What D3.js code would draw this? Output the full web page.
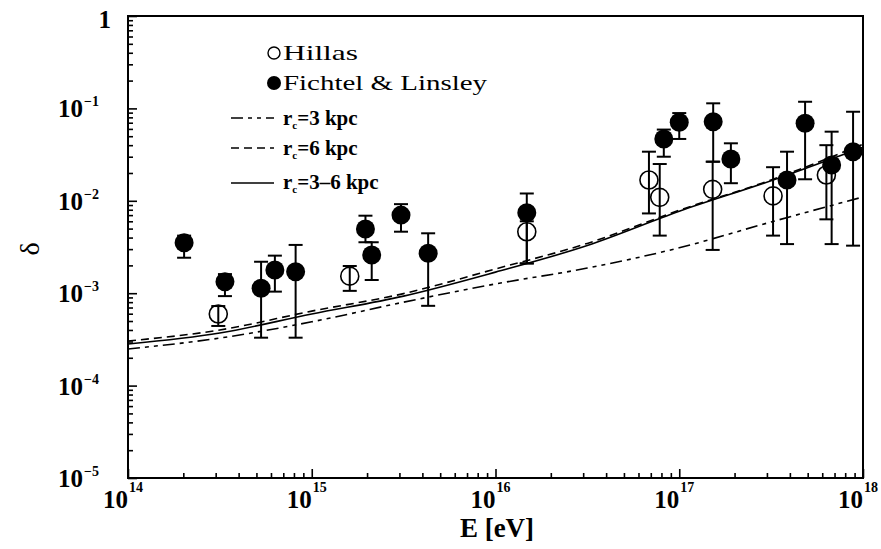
<!DOCTYPE html>
<html>
<head>
<meta charset="utf-8">
<script src="https://cdn.jsdelivr.net/npm/d3@7"></script>
<style>
html,body{margin:0;padding:0;background:#fff;}
svg{display:block;}
text{font-family:"Liberation Serif","Times New Roman",serif;fill:#000;}
</style>
</head>
<body>
<svg id="chart" width="881" height="549"></svg>
<script>
// ---- data ----
const xMajor = [1e14, 1e15, 1e16, 1e17, 1e18];
const xExpLabels = ["14", "15", "16", "17", "18"];
const yMajor = [1e-5, 1e-4, 1e-3, 1e-2, 1e-1, 1];
const yExpLabels = ["\u22125", "\u22124", "\u22123", "\u22122", "\u22121", ""];

// Hillas (open circles)
const hillasE  = [3.1e14, 1.61e15, 1.48e16, 6.84e16, 7.83e16, 1.52e17, 3.24e17, 6.32e17];
const hillasD  = [5.96e-4, 1.53e-3, 4.63e-3, 1.68e-2, 1.09e-2, 1.33e-2, 1.13e-2, 1.9e-2];
const hillasLo = [4.42e-4, 1.06e-3, 2.1e-3, 7.3e-3, 4.2e-3, 2.94e-3, 4.2e-3, 6.3e-3];
const hillasHi = [7.26e-4, 1.97e-3, 6.0e-3, 3.4e-2, 2.5e-2, 2.65e-2, 2.31e-2, 4.0e-2];

// Fichtel & Linsley (filled circles)
const fichtelE  = [2.02e14, 3.37e14, 5.3e14, 6.3e14, 8.17e14, 1.96e15, 2.12e15, 3.06e15, 4.3e15,
                   1.48e16, 8.24e16, 1.0e17, 1.53e17, 1.91e17, 3.86e17, 4.84e17, 6.75e17, 8.83e17];
const fichtelD  = [3.52e-3, 1.33e-3, 1.13e-3, 1.78e-3, 1.71e-3, 4.95e-3, 2.59e-3, 7.0e-3, 2.7e-3,
                   7.43e-3, 4.67e-2, 7.08e-2, 7.18e-2, 2.83e-2, 1.68e-2, 6.9e-2, 2.44e-2, 3.4e-2];
const fichtelLo = [2.42e-3, 9.3e-4, 3.3e-4, 1.04e-3, 3.3e-4, 3.56e-3, 1.39e-3, 4.63e-3, 7.3e-4,
                   2.1e-3, 3.0e-2, 4.67e-2, 2.65e-2, 1.55e-2, 3.4e-3, 1.71e-2, 3.4e-3, 3.27e-3];
const fichtelHi = [4.2e-3, 1.61e-3, 2.19e-3, 2.55e-3, 3.33e-3, 6.9e-3, 3.56e-3, 9.2e-3, 4.45e-3,
                   1.2e-2, 5.9e-2, 8.9e-2, 0.1135, 4.19e-2, 3.4e-2, 0.118, 5.6e-2, 9.2e-2];

// model curves
const curveE    = [1e14, 3.16e14, 1e15, 3.16e15, 1e16, 3.16e16, 1e17, 3.16e17, 1e18];
const curve3    = [2.49e-4, 3.27e-4, 4.9e-4, 8.0e-4, 1.26e-3, 1.87e-3, 3.1e-3, 5.9e-3, 1.1e-2];
const curve6    = [3.04e-4, 4.0e-4, 6.4e-4, 9.9e-4, 1.83e-3, 3.46e-3, 7.9e-3, 1.68e-2, 4.1e-2];
const curve36   = [2.82e-4, 3.71e-4, 5.96e-4, 9.3e-4, 1.69e-3, 3.28e-3, 7.7e-3, 1.65e-2, 3.8e-2];

const legendLabels = ["Hillas", "Fichtel & Linsley", "=3 kpc", "=6 kpc", "=3\u20136 kpc"];

// ---- layout ----
const L = 128, R = 863, T = 16, B = 478;
const svg = d3.select("#chart");
const x = d3.scaleLog().domain([1e14, 1e18]).range([L, R]);
const y = d3.scaleLog().domain([1e-5, 1]).range([B, T]);

function minors(lo, hi) {
  const out = [];
  for (let e = lo; e < hi; e++) for (let k = 2; k <= 9; k++) out.push(k * Math.pow(10, e));
  return out;
}

// curves
const line = d3.line().x((d, i) => x(curveE[i])).y(d => y(d)).curve(d3.curveMonotoneX);
const g = svg.append("g");
g.append("path").attr("d", line(curve3)).attr("fill", "none").attr("stroke", "#000")
  .attr("stroke-width", 1.6).attr("stroke-dasharray", "12,5,4,5,4,5");
g.append("path").attr("d", line(curve6)).attr("fill", "none").attr("stroke", "#000")
  .attr("stroke-width", 1.6).attr("stroke-dasharray", "8,5");
g.append("path").attr("d", line(curve36)).attr("fill", "none").attr("stroke", "#000")
  .attr("stroke-width", 1.6);

// error bars
function errBars(E, Lo, Hi) {
  const eg = svg.append("g").attr("stroke", "#000").attr("stroke-width", 2);
  E.forEach((e, i) => {
    const cx = x(e);
    eg.append("line").attr("x1", cx).attr("x2", cx).attr("y1", y(Lo[i])).attr("y2", y(Hi[i]));
    eg.append("line").attr("x1", cx - 7).attr("x2", cx + 7).attr("y1", y(Lo[i])).attr("y2", y(Lo[i]));
    eg.append("line").attr("x1", cx - 7).attr("x2", cx + 7).attr("y1", y(Hi[i])).attr("y2", y(Hi[i]));
  });
}
errBars(hillasE, hillasLo, hillasHi);
errBars(fichtelE, fichtelLo, fichtelHi);

// markers
svg.append("g").selectAll("circle").data(hillasD).join("circle")
  .attr("cx", (d, i) => x(hillasE[i])).attr("cy", d => y(d)).attr("r", 9)
  .attr("fill", "none").attr("stroke", "#000").attr("stroke-width", 1.6);
svg.append("g").selectAll("circle").data(fichtelD).join("circle")
  .attr("cx", (d, i) => x(fichtelE[i])).attr("cy", d => y(d)).attr("r", 9.5)
  .attr("fill", "#000");

// axes (ticks inward)
function styleAxis(sel) {
  sel.select(".domain").remove();
  sel.selectAll(".tick line").attr("stroke", "#000").attr("stroke-width", 1.6);
}
svg.append("g").attr("transform", `translate(0,${B})`)
  .call(d3.axisBottom(x).tickValues(xMajor).tickSizeInner(-9).tickSizeOuter(0).tickFormat(""))
  .call(styleAxis);
svg.append("g").attr("transform", `translate(0,${B})`)
  .call(d3.axisBottom(x).tickValues(minors(14, 18)).tickSizeInner(-5).tickSizeOuter(0).tickFormat(""))
  .call(styleAxis);
svg.append("g").attr("transform", `translate(${L},0)`)
  .call(d3.axisLeft(y).tickValues(yMajor).tickSizeInner(-9).tickSizeOuter(0).tickFormat(""))
  .call(styleAxis);
svg.append("g").attr("transform", `translate(${L},0)`)
  .call(d3.axisLeft(y).tickValues(minors(-5, 0)).tickSizeInner(-5).tickSizeOuter(0).tickFormat(""))
  .call(styleAxis);

// frame
svg.append("rect").attr("x", L).attr("y", T).attr("width", R - L).attr("height", B - T)
  .attr("fill", "none").attr("stroke", "#000").attr("stroke-width", 2);

// x tick labels
xMajor.forEach((v, i) => {
  const px = x(v);
  svg.append("text").attr("x", px).attr("y", 508).attr("text-anchor", "end")
    .attr("font-size", 25).attr("font-weight", "bold").text("10");
  svg.append("text").attr("x", px + 1).attr("y", 492).attr("text-anchor", "start")
    .attr("font-size", 14).attr("font-weight", "bold").text(xExpLabels[i]);
});
// y tick labels
yMajor.forEach((v, i) => {
  const py = y(v);
  if (yExpLabels[i] === "") {
    svg.append("text").attr("x", 111).attr("y", py + 12).attr("text-anchor", "end")
      .attr("font-size", 25).attr("font-weight", "bold").text("1");
  } else {
    svg.append("text").attr("x", 83).attr("y", py + 9).attr("text-anchor", "end")
      .attr("font-size", 25).attr("font-weight", "bold").text("10");
    svg.append("text").attr("x", 84).attr("y", py - 2).attr("text-anchor", "start")
      .attr("font-size", 14).attr("font-weight", "bold").text(yExpLabels[i]);
  }
});

// axis titles
svg.append("text").attr("x", 497).attr("y", 537).attr("text-anchor", "middle")
  .attr("font-size", 27).attr("font-weight", "bold").text("E [eV]");
svg.append("text").attr("transform", "translate(39,249) rotate(-90)").attr("text-anchor", "middle")
  .attr("font-size", 28).text("\u03b4");

// legend
const lg = svg.append("g");
lg.append("circle").attr("cx", 274).attr("cy", 53).attr("r", 6).attr("fill", "none")
  .attr("stroke", "#000").attr("stroke-width", 1.4);
lg.append("circle").attr("cx", 274).attr("cy", 83).attr("r", 7).attr("fill", "#000");
lg.append("text").attr("x", 283).attr("y", 60).attr("font-size", 21)
  .attr("textLength", 75).attr("lengthAdjust", "spacingAndGlyphs").text(legendLabels[0]);
lg.append("text").attr("x", 283).attr("y", 90).attr("font-size", 21)
  .attr("textLength", 204).attr("lengthAdjust", "spacingAndGlyphs").text(legendLabels[1]);
const lineRows = [
  {yl: 118, yt: 125, dash: "12,5,4,5,4,5", lab: legendLabels[2]},
  {yl: 148, yt: 155, dash: "8,5", lab: legendLabels[3]},
  {yl: 183, yt: 189, dash: null, lab: legendLabels[4]}
];
lineRows.forEach(r => {
  const ln = lg.append("line").attr("x1", 231).attr("x2", 274).attr("y1", r.yl).attr("y2", r.yl)
    .attr("stroke", "#000").attr("stroke-width", 1.6);
  if (r.dash) ln.attr("stroke-dasharray", r.dash);
  const t = lg.append("text").attr("x", 283).attr("y", r.yt).attr("font-size", 21)
    .attr("font-weight", "bold");
  t.append("tspan").text("r");
  t.append("tspan").attr("font-size", 11).attr("dy", 4).text("c");
  t.append("tspan").attr("dy", -4).text(r.lab);
});
</script>
</body>
</html>
